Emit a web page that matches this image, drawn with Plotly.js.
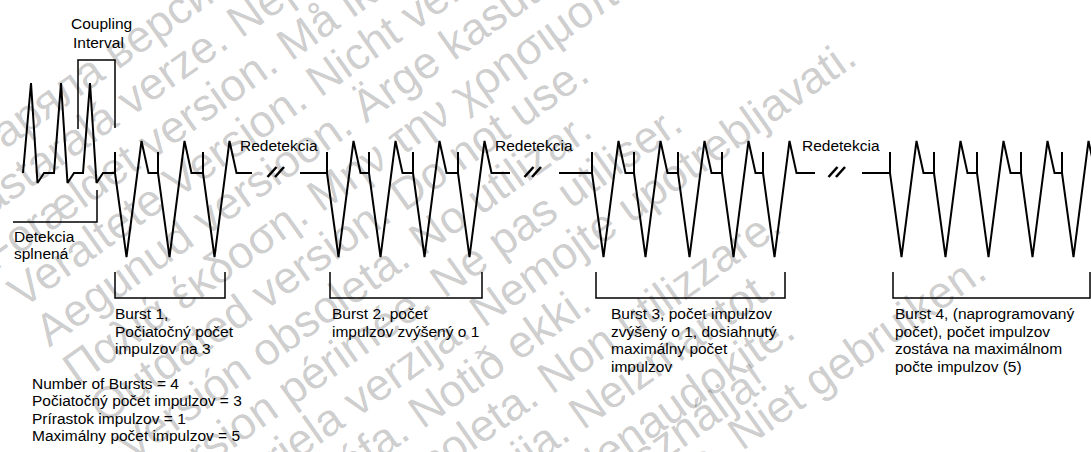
<!DOCTYPE html>
<html>
<head>
<meta charset="utf-8">
<script src="https://cdn.plot.ly/plotly-3.0.1.min.js"></script>
<style>
html,body{margin:0;padding:0;background:#fff;}
#chart{width:1091px;height:452px;}
</style>
</head>
<body>
<div id="chart"></div>
<script>
// ---------------- data (time along x, amplitude along y; baseline = 0) ----------------
const intrinsicPeakTimes = [31, 61, 90];          // sensed intrinsic beats before detection
const intrinsicPeakAmp = 90;
const intrinsicUndershootAmp = -10;
const detectionTime = 97;                        // "Detekcia splnená"
const burstPulseCounts = [3, 4, 5, 5];           // pulses per burst
const burstPulseTimes = [
  [115, 158, 203],
  [327, 369, 413, 458],
  [592, 634, 678, 722, 763],
  [890, 934, 977, 1021, 1062]
];
const burstLeadIn = [115, 300, 559, 862];       // flat baseline before first pulse
const burstTail = [252, 510, 815, 1100];         // flat baseline after last pulse
const pacedTroughAmp = -84;
const pacedPeakAmp = 32;
const markerAmp = 21;
const breakTimes = [276, 533, 837];              // "//" time breaks
const redetectLabels = ["Redetekcia", "Redetekcia", "Redetekcia"];
const burstLabelLines = [
  ["Burst 1,", "Počiatočný počet", "impulzov na 3"],
  ["Burst 2, počet", "impulzov zvýšený o 1"],
  ["Burst 3, počet impulzov", "zvýšený o 1, dosiahnutý", "maximálny počet", "impulzov"],
  ["Burst 4, (naprogramovaný", "počet), počet impulzov", "zostáva na maximálnom", "počte impulzov (5)"]
];
const summaryLines = [
  "Number of Bursts = 4",
  "Počiatočný počet impulzov = 3",
  "Prírastok impulzov = 1",
  "Maximálny počet impulzov = 5"
];
const couplingLabel = ["Coupling", "Interval"];
const detectionLabel = ["Detekcia", "splnená"];
const watermarkLines = [
  "Остаряла версия. Да не се използва.",
  "Zastaralá verze. Nepoužívat.",
  "Forældet version. Må ikke anvendes.",
  "Veraltete Version. Nicht verwenden.",
  "Aegunud versioon. Ärge kasutage.",
  "Παλιά έκδοση. Μην την χρησιμοποιείτε.",
  "Outdated version. Do not use.",
  "Versión obsoleta. No utilizar.",
  "Version périmée. Ne pas utiliser.",
  "Zastarjela verzija. Nemojte upotrebljavati.",
  "Úrelt útgáfa. Notið ekki.",
  "Versione obsoleta. Non utilizzare.",
  "Novecojusi versija. Neizmantot.",
  "Pasenusi versija. Nenaudokite.",
  "Elavult verzió. Ne használja!",
  "Dit is een verouderde versie. Niet gebruiken."
];

// ---------------- build the waveform ----------------
const FONT = 'Liberation Sans, Arial, sans-serif';
const FS = 15.5;
const LINE = {color: '#000', width: 2};
const px = v => 173 - v;  // helper: pixel row -> amplitude (layout only)

let wx = [], wy = [];
intrinsicPeakTimes.forEach((t, i) => {
  if (i === 0) { wx.push(t - 8); wy.push(0); }
  wx.push(t, t + 6.5, t + 13); wy.push(intrinsicPeakAmp, intrinsicUndershootAmp, 0);
  const nextStart = i < intrinsicPeakTimes.length - 1 ? intrinsicPeakTimes[i + 1] - 7 : burstPulseTimes[0][0];
  wx.push(nextStart); wy.push(0);
});
const traces = [];
let mx = [], my = [];
burstPulseTimes.forEach((pulses, b) => {
  let bx, by;
  if (b === 0) { bx = wx; by = wy; }
  else { bx = [burstLeadIn[b]]; by = [0]; }
  pulses.forEach((t, i) => {
    if (b !== 0 || i !== 0) { bx.push(t); by.push(0); }
    bx.push(t + 11.5, t + 26.5, t + 33.5); by.push(pacedTroughAmp, pacedPeakAmp, 0);
    mx.push(t, t, null); my.push(0, markerAmp, null);
  });
  bx.push(burstTail[b]); by.push(0);
  traces.push({x: bx, y: by, mode: 'lines', line: LINE, hoverinfo: 'skip'});
});
traces.push({x: mx, y: my, mode: 'lines', line: LINE, hoverinfo: 'skip'});

let sx = [], sy = [];
breakTimes.forEach(t => {
  [-4, 3.5].forEach(o => { sx.push(t + o - 4.5, t + o + 4.5, null); sy.push(-4, 6, null); });
});
traces.push({x: sx, y: sy, mode: 'lines', line: {color: '#000', width: 2.6}, hoverinfo: 'skip'});

let kx = [], ky = [];
kx.push(78, 78, 115, 115, null); ky.push(px(129), px(60), px(60), px(128), null);
kx.push(detectionTime, detectionTime, 13, null); ky.push(px(190), px(222), px(222), null);
const burstBracket = [[115, 225], [330, 482], [596, 785], [893, 1090]];
burstBracket.forEach(([a, c]) => { kx.push(a, a, c, c, null); ky.push(px(272), px(298), px(298), px(272), null); });
traces.push({x: kx, y: ky, mode: 'lines', line: {color: '#000', width: 1.5}, hoverinfo: 'skip'});

// ---------------- annotations ----------------
const ann = [];
// watermark (faint, rotated)
const WM_FS = 45, WM_ANG = 35.3, WM_GAP = 47;
const wmPerpAdjust = {14: -22, 15: -32};
const wmAlongAdjust = {15: -80};
const th = WM_ANG * Math.PI / 180, cs = Math.cos(th), sn = Math.sin(th);
const ctx = document.createElement('canvas').getContext('2d');
ctx.font = WM_FS + 'px "Liberation Sans", Arial, sans-serif';
const enIndex = 6, enStart = [95, 412];
watermarkLines.forEach((t, i) => {
  const k = (i - enIndex) * WM_GAP + (wmPerpAdjust[i] || 0);
  const a = wmAlongAdjust[i] || 0;
  const sxp = enStart[0] + k * sn + a * cs, syp = enStart[1] + k * cs - a * sn;
  const w = ctx.measureText(t).width;
  const cxp = sxp + w / 2 * cs, cyp = syp - w / 2 * sn;
  ann.push({text: t, x: cxp / 1091, y: 1 - cyp / 452, xref: 'paper', yref: 'paper',
    xanchor: 'center', yanchor: 'middle', textangle: -WM_ANG, showarrow: false,
    font: {family: FONT, size: WM_FS, color: 'rgba(0,0,0,0.21)'}});
});
function txt(text, x, ypx) {
  ann.push({text: text, x: x, y: px(ypx), xref: 'x', yref: 'y', xanchor: 'left', yanchor: 'middle',
    showarrow: false, font: {family: FONT, size: FS, color: '#000'}, borderpad: 0});
}
couplingLabel.forEach((t, i) => txt(t, [70, 72][i], 23 + i * 19));
detectionLabel.forEach((t, i) => txt(t, 13, 236 + i * 17.5));
redetectLabels.forEach((t, i) => txt(t, [239, 494, 801][i], 145));
const burstTextX = [114, 331, 610, 894];
burstLabelLines.forEach((lines, b) => lines.forEach((t, i) => txt(t, burstTextX[b], 313.5 + i * 17.5)));
summaryLines.forEach((t, i) => txt(t, 31, 383 + i * 17.5));

const layout = {
  width: 1091, height: 452,
  margin: {l: 0, r: 0, t: 0, b: 0},
  paper_bgcolor: '#fff', plot_bgcolor: '#fff',
  showlegend: false,
  xaxis: {range: [0, 1091], visible: false, fixedrange: true},
  yaxis: {range: [px(452), px(0)], visible: false, fixedrange: true},
  annotations: ann
};
Plotly.newPlot('chart', traces, layout, {staticPlot: true, displayModeBar: false});
</script>
</body>
</html>
